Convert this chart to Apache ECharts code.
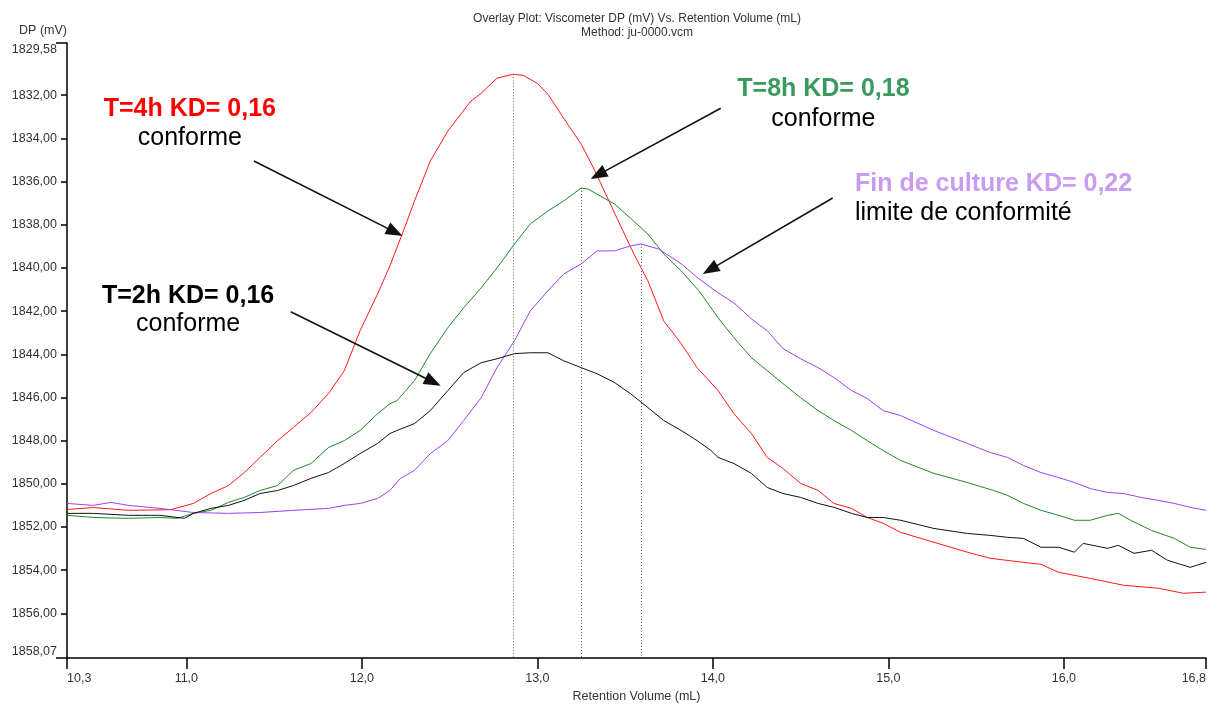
<!DOCTYPE html>
<html>
<head>
<meta charset="utf-8">
<script src="https://cdn.jsdelivr.net/npm/echarts@6/dist/echarts.min.js"></script>
<style>
  html, body { margin: 0; padding: 0; background: #ffffff; }
  #chart { width: 1216px; height: 706px; }
</style>
</head>
<body>
<div id="chart"></div>
<script>
// Axis extents (DP axis runs downward: smaller values at the top)
const xMin = 10.32, xMax = 16.81;
const yMin = 1829.58, yMax = 1858.07;

// Tick / label positions
const xTickValues = [10.32, 11, 12, 13, 14, 15, 16, 16.81];
const yTickValues = [1829.58, 1832, 1834, 1836, 1838, 1840, 1842, 1844, 1846, 1848,
                     1850, 1852, 1854, 1856, 1858.07];
const yInnerTicks = [1832, 1834, 1836, 1838, 1840, 1842, 1844, 1846, 1848, 1850, 1852, 1854, 1856];

// Series names
const seriesNames = ['T=4h', 'T=8h', 'Fin de culture', 'T=2h'];

// Viscometer DP (mV) against retention volume (mL): [volume, DP]
const dpT4h = [
  [10.32, 1851.19], [10.47, 1851.10], [10.67, 1851.23], [10.91, 1851.20], [11.04, 1850.91],
  [11.14, 1850.45], [11.24, 1850.08], [11.33, 1849.48], [11.42, 1848.78], [11.52, 1848.00],
  [11.61, 1847.39], [11.71, 1846.70], [11.81, 1845.82], [11.90, 1844.76], [11.99, 1842.91],
  [12.09, 1841.20], [12.16, 1839.90], [12.23, 1838.43], [12.30, 1836.90], [12.39, 1835.05],
  [12.49, 1833.66], [12.62, 1832.28], [12.68, 1831.91], [12.77, 1831.21], [12.86, 1831.03],
  [12.92, 1831.08], [13.00, 1831.45], [13.06, 1831.95], [13.15, 1833.06], [13.25, 1834.27],
  [13.32, 1835.37], [13.40, 1836.76], [13.48, 1838.15], [13.55, 1839.35], [13.63, 1840.60],
  [13.72, 1842.45], [13.82, 1843.51], [13.91, 1844.62], [14.03, 1845.68], [14.12, 1846.75],
  [14.22, 1847.67], [14.31, 1848.78], [14.40, 1849.29], [14.50, 1849.98], [14.60, 1850.31],
  [14.69, 1850.91], [14.79, 1851.14], [14.88, 1851.56], [14.97, 1851.83], [15.07, 1852.25],
  [15.26, 1852.71], [15.45, 1853.17], [15.58, 1853.45], [15.77, 1853.64], [15.87, 1853.73],
  [15.97, 1854.10], [16.15, 1854.38], [16.34, 1854.70], [16.54, 1854.84], [16.68, 1855.07],
  [16.81, 1855.02]
];

const dpT8h = [
  [10.32, 1851.46], [10.47, 1851.56], [10.67, 1851.60], [10.85, 1851.56], [10.95, 1851.60],
  [11.04, 1851.37], [11.14, 1851.23], [11.24, 1850.86], [11.33, 1850.63], [11.42, 1850.31],
  [11.52, 1850.08], [11.61, 1849.38], [11.71, 1849.06], [11.81, 1848.32], [11.90, 1848.00],
  [11.99, 1847.53], [12.09, 1846.75], [12.16, 1846.29], [12.20, 1846.15], [12.30, 1845.22],
  [12.39, 1843.97], [12.49, 1842.77], [12.58, 1841.85], [12.68, 1840.92], [12.77, 1840.00],
  [12.87, 1838.89], [12.96, 1837.96], [13.06, 1837.36], [13.15, 1836.90], [13.25, 1836.30],
  [13.29, 1836.35], [13.34, 1836.58], [13.44, 1837.04], [13.53, 1837.69], [13.63, 1838.43],
  [13.72, 1839.35], [13.82, 1840.14], [13.92, 1841.05], [14.03, 1842.31], [14.12, 1843.23],
  [14.22, 1844.16], [14.31, 1844.76], [14.40, 1845.36], [14.50, 1846.01], [14.60, 1846.61],
  [14.69, 1847.07], [14.79, 1847.53], [14.88, 1848.00], [14.97, 1848.46], [15.07, 1848.92],
  [15.26, 1849.52], [15.45, 1849.94], [15.60, 1850.31], [15.68, 1850.54], [15.77, 1850.91],
  [15.87, 1851.23], [15.97, 1851.46], [16.06, 1851.69], [16.15, 1851.69], [16.25, 1851.46],
  [16.31, 1851.37], [16.38, 1851.69], [16.50, 1852.16], [16.63, 1852.53], [16.72, 1852.94],
  [16.81, 1853.04]
];

const dpFinCulture = [
  [10.32, 1850.91], [10.47, 1851.00], [10.57, 1850.86], [10.67, 1851.00], [10.85, 1851.14],
  [11.04, 1851.33], [11.24, 1851.37], [11.42, 1851.33], [11.61, 1851.23], [11.81, 1851.14],
  [11.90, 1851.00], [11.99, 1850.91], [12.09, 1850.68], [12.16, 1850.31], [12.22, 1849.75],
  [12.30, 1849.38], [12.39, 1848.60], [12.49, 1848.00], [12.58, 1847.07], [12.68, 1846.01],
  [12.77, 1844.62], [12.87, 1843.37], [12.96, 1841.99], [13.06, 1841.06], [13.15, 1840.28],
  [13.25, 1839.81], [13.34, 1839.21], [13.44, 1839.21], [13.53, 1838.98], [13.59, 1838.89],
  [13.69, 1839.12], [13.82, 1839.81], [13.92, 1840.50], [14.03, 1841.15], [14.12, 1841.62],
  [14.22, 1842.36], [14.31, 1842.91], [14.40, 1843.74], [14.50, 1844.21], [14.60, 1844.62],
  [14.69, 1845.08], [14.79, 1845.68], [14.88, 1846.05], [14.97, 1846.61], [15.07, 1846.84],
  [15.26, 1847.53], [15.45, 1848.13], [15.58, 1848.55], [15.68, 1848.78], [15.77, 1849.15],
  [15.87, 1849.48], [15.97, 1849.71], [16.06, 1849.94], [16.15, 1850.22], [16.25, 1850.40],
  [16.34, 1850.45], [16.44, 1850.63], [16.54, 1850.77], [16.63, 1850.91], [16.72, 1851.09],
  [16.81, 1851.23]
];

const dpT2h = [
  [10.32, 1851.37], [10.47, 1851.37], [10.67, 1851.46], [10.85, 1851.46], [10.99, 1851.60],
  [11.04, 1851.37], [11.14, 1851.14], [11.24, 1851.00], [11.33, 1850.77], [11.42, 1850.45],
  [11.52, 1850.31], [11.61, 1850.08], [11.71, 1849.75], [11.81, 1849.48], [11.90, 1849.06],
  [11.99, 1848.60], [12.09, 1848.13], [12.16, 1847.67], [12.20, 1847.53], [12.30, 1847.21],
  [12.39, 1846.61], [12.49, 1845.68], [12.58, 1844.85], [12.68, 1844.39], [12.77, 1844.21],
  [12.87, 1843.97], [12.96, 1843.93], [13.06, 1843.93], [13.15, 1844.30], [13.25, 1844.62],
  [13.34, 1844.90], [13.44, 1845.31], [13.53, 1845.82], [13.63, 1846.47], [13.72, 1847.07],
  [13.82, 1847.53], [13.91, 1848.00], [13.99, 1848.46], [14.03, 1848.78], [14.12, 1849.06],
  [14.22, 1849.52], [14.31, 1850.17], [14.40, 1850.45], [14.50, 1850.63], [14.60, 1850.91],
  [14.69, 1851.09], [14.79, 1851.37], [14.88, 1851.56], [14.97, 1851.56], [15.07, 1851.69],
  [15.26, 1852.07], [15.45, 1852.30], [15.58, 1852.39], [15.68, 1852.48], [15.77, 1852.53],
  [15.87, 1852.94], [15.97, 1852.94], [16.06, 1853.17], [16.11, 1852.76], [16.25, 1852.99],
  [16.31, 1852.85], [16.40, 1853.22], [16.50, 1853.08], [16.59, 1853.54], [16.72, 1853.87],
  [16.81, 1853.64]
];

// Callout texts: heading, comment, colours
const calloutHeads = ['T=4h KD= 0,16', 'T=8h KD= 0,18', 'Fin de culture KD= 0,22', 'T=2h KD= 0,16'];
const calloutNotes = ['conforme', 'conforme', 'limite de conformité', 'conforme'];

const FONT = "'Liberation Sans', Arial, Helvetica, sans-serif";
const lineColors = ['#ff1a1a', '#1f8a24', '#a040f5', '#111111'];
const headColors = ['#ff0000', '#3a9a5e', '#c99cf2', '#000000'];

// Callout placement in data units (anchor of heading / comment);
// arrow runs from its tail to the centre of its triangular head
const callouts = [
  { head: [11.02, 1832.65], note: [11.02, 1834.00], align: 'center',
    arrow: [[11.385, 1835.05], [12.189, 1838.34]] },
  { head: [14.63, 1831.72], note: [14.63, 1833.10], align: 'center',
    arrow: [[14.045, 1832.60], [13.346, 1835.69]] },
  { head: [14.81, 1836.11], note: [14.81, 1837.45], align: 'left',
    arrow: [[14.683, 1836.76], [13.984, 1840.08]] },
  { head: [11.01, 1841.29], note: [11.01, 1842.60], align: 'center',
    arrow: [[11.595, 1842.03], [12.406, 1845.28]] }
];

const seriesData = [dpT4h, dpT8h, dpFinCulture, dpT2h];
// Peaks get a dotted drop line (not drawn for T=2h)
const dropLine = [true, true, true, false];

function peakOf(data) {
  let best = data[0];
  for (const p of data) if (p[1] < best[1]) best = p;
  return best;
}

const chart = echarts.init(document.getElementById('chart'), null, { renderer: 'canvas' });

const series = seriesData.map((data, i) => {
  const ml = [];
  if (dropLine[i]) {
    const pk = peakOf(data);
    ml.push([
      { coord: [pk[0], pk[1]], symbol: 'none',
        lineStyle: { color: '#666666', type: [1, 2], width: 1 } },
      { coord: [pk[0], yMax], symbol: 'none' }
    ]);
  }
  const a = callouts[i].arrow;
  ml.push([
    { coord: a[0], symbol: 'none',
      lineStyle: { color: '#111111', type: 'solid', width: 1.6 } },
    { coord: a[1], symbol: 'triangle', symbolSize: [13, 17] }
  ]);
  return {
    name: seriesNames[i],
    type: 'line',
    data: data,
    showSymbol: false,
    symbol: 'none',
    smooth: false,
    lineStyle: { color: lineColors[i], width: 1 },
    itemStyle: { color: lineColors[i] },
    z: 3,
    markLine: {
      silent: true,
      animation: false,
      symbol: ['none', 'none'],
      label: { show: false },
      emphasis: { disabled: true },
      itemStyle: { color: '#111111' },
      data: ml
    }
  };
});

const axisText = { color: '#333333', fontFamily: FONT, fontSize: 12.5 };

chart.setOption({
  animation: false,
  backgroundColor: '#ffffff',
  title: {
    text: 'Overlay Plot: Viscometer DP (mV) Vs. Retention Volume (mL)',
    subtext: 'Method: ju-0000.vcm',
    left: 632,
    top: 8,
    textAlign: 'center',
    itemGap: 2,
    textStyle: { color: '#333333', fontFamily: FONT, fontSize: 12, fontWeight: 'normal' },
    subtextStyle: { color: '#333333', fontFamily: FONT, fontSize: 12 }
  },
  grid: { left: 67, right: 10, top: 43, bottom: 48, containLabel: false, outerBoundsMode: 'none' },
  xAxis: {
    type: 'value',
    min: xMin,
    max: xMax,
    name: 'Retention Volume (mL)',
    nameLocation: 'middle',
    nameGap: 31,
    nameTextStyle: axisText,
    axisLine: { show: true, onZero: false, lineStyle: { color: '#000000', width: 1.5 } },
    axisTick: { show: true, inside: false, length: 11, customValues: xTickValues,
                lineStyle: { color: '#000000', width: 1.5 } },
    axisLabel: { show: true, customValues: xTickValues, margin: 14,
                 alignMinLabel: 'left', alignMaxLabel: 'right',
                 formatter: v => v.toFixed(1).replace('.', ','), ...axisText },
    splitLine: { show: false }
  },
  yAxis: [
    {
      type: 'value',
      inverse: true,
      min: yMin,
      max: yMax,
      position: 'left',
      name: 'DP (mV)',
      nameLocation: 'start',
      nameGap: 12,
      nameTextStyle: { ...axisText, align: 'right', verticalAlign: 'middle' },
      axisLine: { show: true, onZero: false, lineStyle: { color: '#000000', width: 1.5 } },
      axisTick: { show: true, inside: false, length: 6, customValues: yInnerTicks,
                  lineStyle: { color: '#000000', width: 1.5 } },
      axisLabel: { show: true, customValues: yTickValues, margin: 10,
                   verticalAlignMinLabel: 'top', verticalAlignMaxLabel: 'bottom',
                   formatter: v => v.toFixed(2).replace('.', ','), ...axisText },
      splitLine: { show: false }
    },
    {
      // longer end ticks at the top and bottom of the DP axis
      type: 'value',
      inverse: true,
      min: yMin,
      max: yMax,
      position: 'left',
      axisLine: { show: false },
      axisTick: { show: true, inside: false, length: 11, customValues: [yMin, yMax],
                  lineStyle: { color: '#000000', width: 1.5 } },
      axisLabel: { show: false },
      splitLine: { show: false }
    }
  ],
  series: series
});

// Callout texts placed from data coordinates
function drawCallouts() {
  const g = [];
  callouts.forEach((c, i) => {
    const ph = chart.convertToPixel({ xAxisIndex: 0, yAxisIndex: 0 }, c.head);
    const pn = chart.convertToPixel({ xAxisIndex: 0, yAxisIndex: 0 }, c.note);
    g.push({
      type: 'text', x: ph[0], y: ph[1], z: 10,
      style: { text: calloutHeads[i], fill: headColors[i], font: 'bold 25px ' + FONT,
               align: c.align, verticalAlign: 'middle' }
    });
    g.push({
      type: 'text', x: pn[0], y: pn[1], z: 10,
      style: { text: calloutNotes[i], fill: '#000000', font: '25px ' + FONT,
               align: c.align, verticalAlign: 'middle' }
    });
  });
  chart.setOption({ graphic: g });
}
drawCallouts();
</script>
</body>
</html>
